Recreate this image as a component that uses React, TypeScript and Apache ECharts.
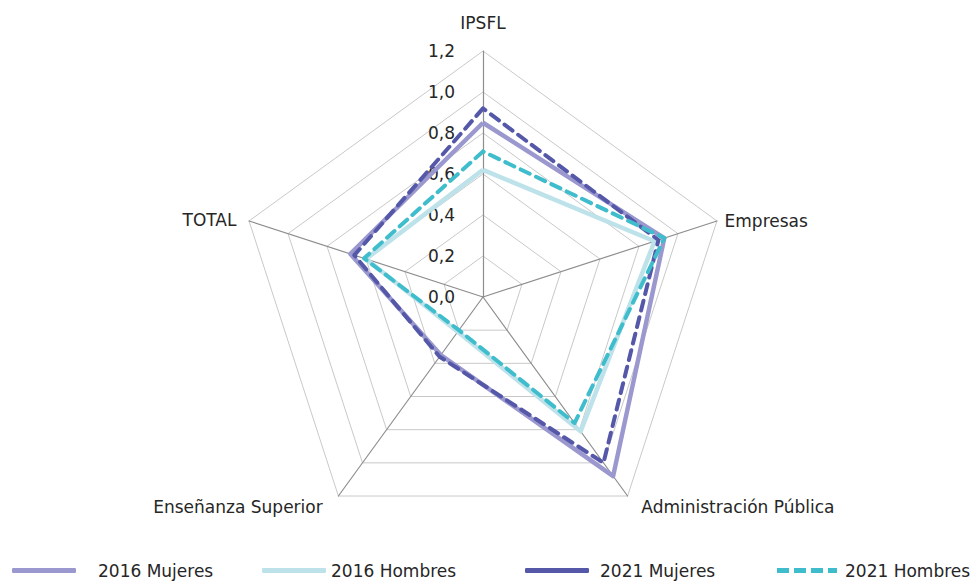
import React, { useEffect, useRef } from "react";
import * as echarts from "echarts";

// Indicators listed counter-clockwise from the top (ECharts radar order)
const indicators = ["IPSFL", "TOTAL", "Enseñanza Superior", "Administración Pública", "Empresas"];
const radarMax = 1.2;
const tickInterval = 0.2;

// values in same order as indicators
const mujeres2016 = [0.85, 0.68, 0.35, 1.08, 0.93];
const hombres2016 = [0.62, 0.60, 0.21, 0.81, 0.88];
const mujeres2021 = [0.92, 0.66, 0.36, 1.0, 0.9];
const hombres2021 = [0.71, 0.61, 0.2, 0.76, 0.93];

const seriesNames = ["2016 Mujeres", "2016 Hombres", "2021 Mujeres", "2021 Hombres"];
const colors = ["#9b98cf", "#bde2ea", "#5558a8", "#3fbdcc"];

const FONT = "DejaVu Sans";

export default function App() {
  const ref = useRef<HTMLDivElement>(null);
  useEffect(() => {
    if (!ref.current) return;
    const chart = echarts.init(ref.current, null, { renderer: "svg" });
    const center = ["483", "297"];
    const radius = 246;
    const textColor = "#262626";
    const legendPos = [
      { left: 7, pad: 17 },
      { left: 257, pad: 0 },
      { left: 520, pad: 6 },
      { left: 772, pad: 1 },
    ];
    const dashedIcon =
      "path://M0,0h12v5h-12z M17,0h12v5h-12z M34,0h12v5h-12z M51,0h9v5h-9z";
    // per-name padding to fine-place the indicator names
    const namePads: Record<string, number[]> = {
      IPSFL: [0, 0, 12, 0],
      Empresas: [5, 0, 0, 0],
      "Administración Pública": [9, 0, 0, 9],
      "Enseñanza Superior": [9, 11, 0, 0],
      TOTAL: [3, 5, 0, 0],
    };
    const rich: Record<string, any> = {};
    indicators.forEach((n, i) => {
      rich["n" + i] = {
        color: textColor,
        fontFamily: FONT,
        fontSize: 17,
        padding: namePads[n],
      };
    });
    const option = {
      animation: false,
      backgroundColor: "#ffffff",
      radar: {
        center,
        radius,
        startAngle: 90,
        splitNumber: 6,
        shape: "polygon",
        indicator: indicators.map((n) => ({ name: n, min: 0, max: radarMax })),
        axisName: {
          color: textColor,
          fontFamily: FONT,
          fontSize: 17,
          formatter: (name: string) => `{n${indicators.indexOf(name)}|${name}}`,
          rich,
        },
        nameGap: 8,
        splitArea: { show: false },
        splitLine: { lineStyle: { color: "#c9c9c9", width: 1 } },
        axisLine: { lineStyle: { color: "#8e8e8e", width: 1.2 } },
        axisTick: { show: false },
        axisLabel: { show: false },
      },
      polar: { center, radius },
      angleAxis: { show: false, startAngle: 90, min: 0, max: 360 },
      radiusAxis: {
        min: 0,
        max: radarMax,
        interval: tickInterval,
        axisLine: { show: false },
        axisTick: { show: false },
        splitLine: { show: false },
        axisLabel: {
          show: true,
          align: "left",
          margin: 55,
          color: textColor,
          fontFamily: FONT,
          fontSize: 17,
          formatter: (v: number) => v.toFixed(1).replace(".", ","),
        },
      },
      legend: seriesNames.map((name, i) => ({
        data: [
          {
            name,
            icon: i === 3 ? dashedIcon : "roundRect",
            itemStyle: { color: colors[i] },
          },
        ],
        left: legendPos[i].left,
        top: 557,
        itemWidth: 64,
        itemHeight: 5,
        textStyle: {
          color: textColor,
          fontFamily: FONT,
          fontSize: 17,
          padding: [0, 0, 0, legendPos[i].pad],
        },
      })),
      series: [
        {
          type: "radar",
          symbol: "none",
          data: [
            {
              name: seriesNames[0],
              value: mujeres2016,
              lineStyle: { color: colors[0], width: 4.5 },
              itemStyle: { color: colors[0] },
            },
            {
              name: seriesNames[1],
              value: hombres2016,
              lineStyle: { color: colors[1], width: 4.5 },
              itemStyle: { color: colors[1] },
            },
            {
              name: seriesNames[2],
              value: mujeres2021,
              lineStyle: { color: colors[2], width: 4, type: [10, 7], cap: "round" },
              itemStyle: { color: colors[2] },
            },
            {
              name: seriesNames[3],
              value: hombres2021,
              lineStyle: { color: colors[3], width: 4, type: [10, 7], cap: "round" },
              itemStyle: { color: colors[3] },
            },
          ],
        },
      ],
    };
    chart.setOption(option as any);
    return () => chart.dispose();
  }, []);
  return (
    <div
      ref={ref}
      style={{ position: "absolute", left: 0, top: 0, width: 977, height: 581 }}
    />
  );
}
